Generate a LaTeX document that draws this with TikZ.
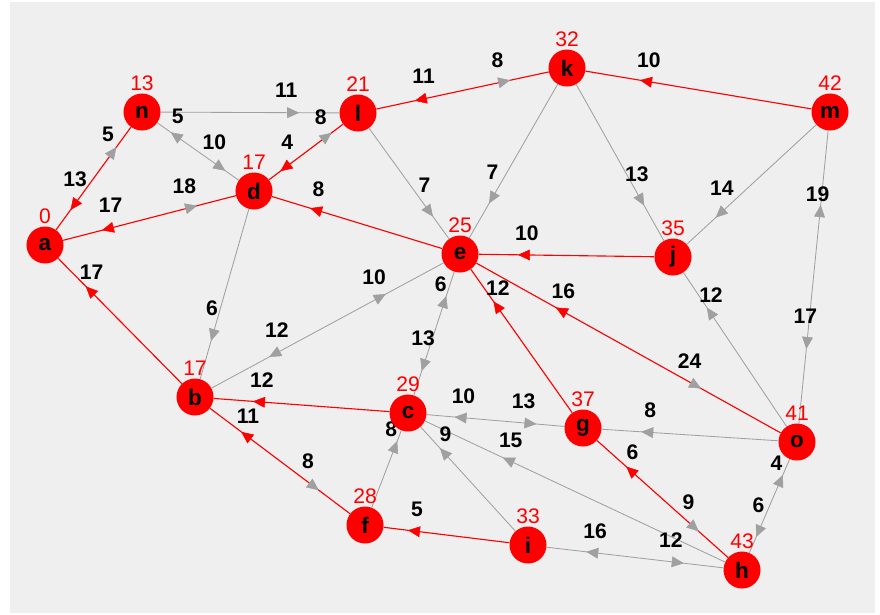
\documentclass[tikz,border=0pt]{standalone}
\usepackage{fontspec}
\setmainfont{Liberation Sans}
\usetikzlibrary{calc,arrows.meta,backgrounds}
\definecolor{pathred}{HTML}{FF0000}
\definecolor{edgegray}{HTML}{A0A0A0}
\definecolor{panel}{HTML}{EFEFEF}
\newcommand{\hop}[4]{\draw[#4,arrowhd] ($(#1)!0.7!(#2)!-0.15cm!(#2)$)--($(#1)!0.7!(#2)!0.15cm!(#2)$);
\node[wt] at ($(#1)!0.7!(#2)!-0.125cm!(#2)+(-2,-22)$){#3};}

\begin{document}
\begin{tikzpicture}[x=0.025cm,y=-0.025cm,
 vtx/.style={circle,fill=pathred,minimum size=0.925cm,inner sep=0pt,font=\bfseries\fontsize{16}{16}\selectfont},
 dist/.style={text=pathred,inner sep=0pt,label distance=1.4pt,font=\fontsize{15}{15}\selectfont},
 wt/.style={inner sep=0pt,font=\bfseries\fontsize{15}{15}\selectfont},
 redline/.style={pathred,line width=0.8pt},
 grayline/.style={edgegray,line width=0.6pt},
 arrowhd/.style={line width=0.4pt,-{Triangle[length=0.3cm,width=0.27cm]}}]
\useasboundingbox (0,0) rectangle (880,614);
\node[vtx,label={[dist]above:0}] (a) at (45,245) {a};
\node[vtx,label={[dist]above:13}] (n) at (142,112) {n};
\node[vtx,label={[dist]above:21}] (l) at (358,113) {l};
\node[vtx,label={[dist]above:17}] (d) at (254,191) {d};
\node[vtx,label={[dist]above:32}] (k) at (567,68) {k};
\node[vtx,label={[dist]above:42}] (m) at (830,112) {m};
\node[vtx,label={[dist]above:25}] (e) at (460,254) {e};
\node[vtx,label={[dist]above:35}] (j) at (673,257) {j};
\node[vtx,label={[dist]above:17}] (b) at (195,397) {b};
\node[vtx,label={[dist]above:29}] (c) at (408,413) {c};
\node[vtx,label={[dist]above:37}] (g) at (583,428) {g};
\node[vtx,label={[dist]above:41}] (o) at (797,442) {o};
\node[vtx,label={[dist]above:28}] (f) at (365,525) {f};
\node[vtx,label={[dist]above:33}] (i) at (528,545) {i};
\node[vtx,label={[dist]above:43}] (h) at (742,570) {h};
\begin{scope}[on background layer]
\fill[panel] (10,2) rectangle (875,613);
% shortest-path tree edges
\draw[redline] (a)--(n) (a)--(d) (a)--(b) (l)--(d) (k)--(l) (m)--(k) (d)--(e) (j)--(e) (b)--(c) (b)--(f) (e)--(g) (e)--(o) (g)--(h) (f)--(i);
\draw[grayline] (n)--(l) (n)--(d) (l)--(e) (k)--(e) (k)--(j) (m)--(j) (m)--(o) (j)--(o) (b)--(e) (d)--(b) (c)--(e) (f)--(c) (c)--(g) (g)--(o) (c)--(h) (c)--(i) (i)--(h) (o)--(h);
\hop{n}{a}{13}{pathred} \hop{a}{n}{5}{edgegray}
\hop{d}{a}{17}{pathred} \hop{a}{d}{18}{edgegray}
\hop{b}{a}{17}{pathred}
\hop{n}{l}{11}{edgegray}
\hop{d}{n}{5}{edgegray} \hop{n}{d}{10}{edgegray}
\hop{l}{d}{4}{pathred} \hop{d}{l}{8}{edgegray}
\hop{k}{l}{11}{pathred} \hop{l}{k}{8}{edgegray}
\hop{m}{k}{10}{pathred}
\hop{e}{d}{8}{pathred}
\hop{l}{e}{7}{edgegray} \hop{k}{e}{7}{edgegray}
\hop{k}{j}{13}{edgegray} \hop{m}{j}{14}{edgegray}
\hop{j}{e}{10}{pathred}
\hop{m}{o}{17}{edgegray} \hop{o}{m}{19}{edgegray}
\hop{o}{j}{12}{edgegray}
\hop{e}{b}{12}{edgegray} \hop{b}{e}{10}{edgegray}
\hop{d}{b}{6}{edgegray}
\hop{c}{e}{6}{edgegray} \hop{e}{c}{13}{edgegray}
\hop{c}{b}{12}{pathred}
\hop{f}{b}{11}{pathred} \hop{b}{f}{8}{edgegray}
\hop{f}{c}{8}{edgegray}
\hop{g}{c}{10}{edgegray} \hop{c}{g}{13}{edgegray}
\hop{g}{e}{12}{pathred}
\hop{o}{e}{16}{pathred} \hop{e}{o}{24}{edgegray}
\hop{o}{g}{8}{edgegray}
\hop{h}{g}{6}{pathred} \hop{g}{h}{9}{edgegray}
\hop{h}{c}{15}{edgegray} \hop{i}{c}{9}{edgegray}
\hop{i}{f}{5}{pathred}
\hop{h}{i}{16}{edgegray} \hop{i}{h}{12}{edgegray}
\hop{o}{h}{6}{edgegray} \hop{h}{o}{4}{edgegray}
\end{scope}
\end{tikzpicture}
\end{document}
